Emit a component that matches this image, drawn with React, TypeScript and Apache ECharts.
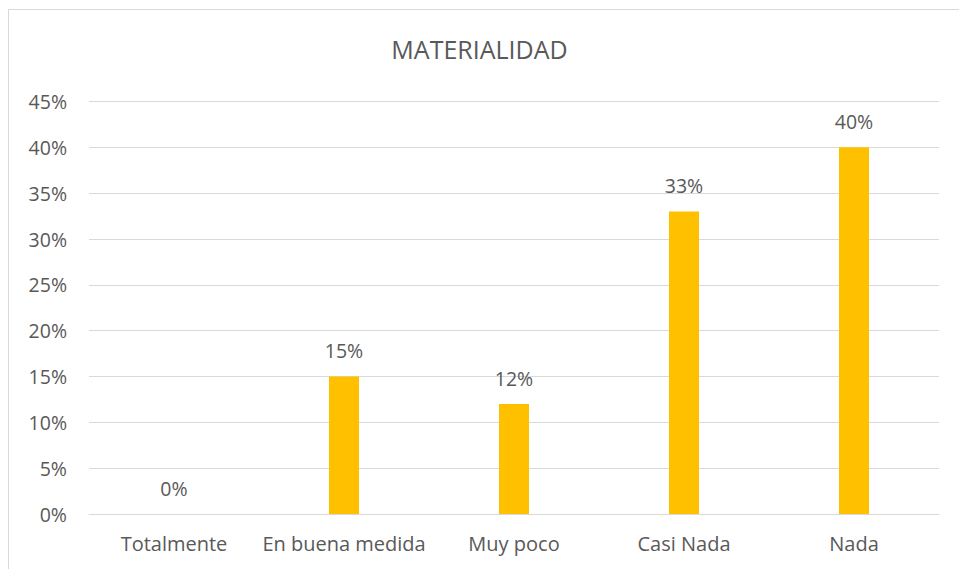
import React, { useEffect, useRef } from "react";
import * as echarts from "echarts";

const title = "MATERIALIDAD";
const categories = ["Totalmente", "En buena medida", "Muy poco", "Casi Nada", "Nada"];
const values = [0, 15, 12, 33, 40];
const yMax = 45;
const yInterval = 5;

const FONT = "'Open Sans', Lato, sans-serif";
const TEXT = "#595959";

export default function App() {
  const ref = useRef<HTMLDivElement>(null);
  useEffect(() => {
    if (!ref.current) return;
    const chart = echarts.init(ref.current, null, { renderer: "svg" });
    chart.setOption({
      animation: false,
      backgroundColor: "#ffffff",
      textStyle: { fontFamily: FONT },
      title: {
        text: title,
        left: "center",
        top: 31,
        textStyle: { fontFamily: FONT, fontSize: 25, fontWeight: "normal", color: TEXT },
      },
      graphic: [
        {
          type: "rect",
          shape: { x: 8.5, y: 9.5, width: 1000, height: 1000 },
          style: { fill: "none", stroke: "#d9d9d9", lineWidth: 1 },
          silent: true,
        },
      ],
      grid: { left: 89, right: 20, top: 101.5, bottom: 55, containLabel: false },
      xAxis: {
        type: "category",
        data: categories,
        axisLine: { show: true, lineStyle: { color: "#d9d9d9", width: 1 } },
        axisTick: { show: false },
        axisLabel: { color: TEXT, fontSize: 20, fontFamily: FONT, margin: 19, interval: 0 },
      },
      yAxis: {
        type: "value",
        min: 0,
        max: yMax,
        interval: yInterval,
        axisLine: { show: false },
        axisTick: { show: false },
        splitLine: { lineStyle: { color: "#d9d9d9", width: 1 } },
        axisLabel: {
          color: TEXT,
          fontSize: 19.5,
          fontFamily: FONT,
          margin: 22,
          formatter: (v: number) => `${v}%`,
        },
      },
      series: [
        {
          type: "bar",
          data: values,
          barWidth: 30,
          itemStyle: { color: "#ffc000" },
          label: {
            show: true,
            position: "top",
            distance: 16,
            color: TEXT,
            fontSize: 19.5,
            fontFamily: FONT,
            formatter: (p: any) => `${p.value}%`,
          },
        },
      ],
    });
    return () => chart.dispose();
  }, []);
  return (
    <div
      ref={ref}
      style={{ position: "fixed", left: 0, top: 0, width: 959, height: 569 }}
    />
  );
}
